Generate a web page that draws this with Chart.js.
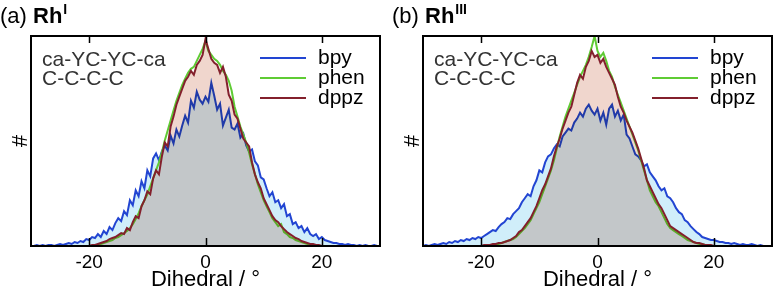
<!DOCTYPE html>
<html><head><meta charset="utf-8">
<script src="https://cdn.jsdelivr.net/npm/chart.js@4.4.0/dist/chart.umd.min.js"></script>
<style>
html,body{margin:0;padding:0;background:#fff;width:773px;height:288px;overflow:hidden}
#wa{position:absolute;left:0;top:0;width:390px;height:288px}
#wb{position:absolute;left:390px;top:0;width:383px;height:288px}
</style></head><body>
<div id="wa"><canvas id="ca"></canvas></div>
<div id="wb"><canvas id="cb"></canvas></div>
<script>
// Dihedral bins (degrees)
const bins = [-30,-29.5,-29,-28.5,-28,-27.5,-27,-26.5,-26,-25.5,
-25,-24.5,-24,-23.5,-23,-22.5,-22,-21.5,-21,-20.5,
-20,-19.5,-19,-18.5,-18,-17.5,-17,-16.5,-16,-15.5,
-15,-14.5,-14,-13.5,-13,-12.5,-12,-11.5,-11,-10.5,
-10,-9.5,-9,-8.5,-8,-7.5,-7,-6.5,-6,-5.5,
-5,-4.5,-4,-3.5,-3,-2.5,-2,-1.5,-1,-0.5,
0,
0.5,1,1.5,2,2.5,3,3.5,4,4.5,5,
5.5,6,6.5,7,7.5,8,8.5,9,9.5,10,
10.5,11,11.5,12,12.5,13,13.5,14,14.5,15,
15.5,16,16.5,17,17.5,18,18.5,19,19.5,20,
20.5,21,21.5,22,22.5,23,23.5,24,24.5,25,
25.5,26,26.5,27,27.5,28,28.5,29,29.5,30];

const xTicks = [-20, 0, 20];
const seriesNames = ['bpy', 'phen', 'dppz'];

// Panel (a) Rh(I)
const bpyA = [0,0,1,0,1,0,1,1,0,1,
2,1,2,3,2,4,3,5,4,7,
6,9,8,12,9,15,12,19,16,23,
28,25,35,31,46,41,56,50,65,58,
76,70,88,93,86,95,101,96,111,103,
117,110,121,131,124,146,139,155,147,143,
150,
145,164,151,137,143,121,129,137,119,117,
123,109,113,101,95,97,85,81,69,67,
58,50,54,44,46,38,42,30,32,22,
24,18,20,14,18,12,10,12,7,9,
6,5,4,3,3,2,2,1,2,1,
1,0,1,0,1,0,0,1,0,0];
const phenA = [0,0,0,0,0,0,0,0,0,0,
0,0,0,0,0,0,0,0,0,0,
0,0,0,1,2,3,4,5,6,8,
9,11,13,15,18,22,27,33,40,46,
52,60,68,76,84,94,106,116,126,136,
146,154,162,168,174,178,180,186,192,198,
206,
196,192,188,186,182,176,172,166,156,140,
130,120,112,104,94,82,72,62,54,46,
40,34,28,24,20,22,14,12,9,8,
6,5,4,3,2,2,1,1,0,0,
0,0,0,0,0,0,0,0,0,0,
0,0,0,0,0,0,0,0,0,0];
const dppzA = [0,0,0,0,0,0,0,0,0,0,
0,0,0,0,0,0,0,0,0,0,
0,1,1,2,3,4,5,7,8,9,
11,13,12,18,16,24,30,28,40,46,
55,52,68,76,72,90,104,100,120,130,
142,150,158,166,170,176,172,182,186,192,
208,
198,188,184,182,174,180,170,152,146,132,
128,118,108,104,100,84,72,64,58,48,
42,36,30,26,24,20,17,14,12,10,
8,7,5,4,3,2,2,1,1,0,
0,0,0,0,0,0,0,0,0,0,
0,0,0,0,0,0,0,0,0,0];

// Panel (b) Rh(III)
const bpyB = [0,1,0,1,2,1,2,3,2,4,
3,5,4,6,5,7,6,8,7,9,
8,10,12,14,16,15,19,22,24,28,
27,32,35,38,44,48,52,50,60,66,
76,74,84,90,92,98,102,100,110,114,
118,116,124,128,134,130,138,142,136,132,
138,
126,134,122,138,142,130,136,126,132,112,
108,100,92,90,86,80,82,74,70,66,
60,56,58,50,48,44,38,34,32,26,
24,20,17,14,12,9,8,7,6,6,
5,4,4,3,3,2,3,2,1,2,
1,1,2,1,0,1,0,0,0,0];
const phenB = [0,0,0,0,0,0,0,0,0,0,
0,0,0,0,0,0,0,0,0,0,
0,0,0,1,1,2,2,3,4,5,
6,7,9,12,15,18,22,26,32,38,
44,52,60,68,76,86,98,110,120,130,
138,146,154,162,170,176,182,190,200,211,
196,
190,194,186,176,170,160,152,144,136,128,
120,112,104,96,86,76,66,56,50,44,
40,34,28,22,18,16,14,12,10,8,
6,5,4,3,2,2,1,1,0,0,
0,0,0,0,0,0,0,0,0,0,
0,0,0,0,0,0,0,0,0,0];
const dppzB = [0,0,0,0,0,0,0,0,0,0,
0,0,0,0,0,0,0,0,0,0,
0,1,1,1,2,2,3,3,4,5,
6,8,10,14,16,20,24,28,34,40,
48,56,62,70,78,90,100,108,118,126,
134,140,152,164,172,168,180,186,196,190,
192,
184,188,180,174,168,162,150,140,134,126,
120,114,106,98,88,78,66,60,54,48,
42,38,32,26,20,18,16,14,12,10,
8,6,4,3,3,2,1,1,1,0,
0,0,0,0,0,0,0,0,0,0,
0,0,0,0,0,0,0,0,0,0];

const COL = {bpy:'#2245d2', phen:'#5fcb34', dppz:'#83202c'};
const FILL = {bpy:'#d0eefa', dppz:'#f0d6cd'};
const FONT = '"Liberation Sans", Arial, Helvetica, sans-serif';

function pts(arr){ return bins.map((b,i)=>({x:b, y:arr[i]})); }

const decor = {
  id:'decor',
  // fills (drawn by the filler in beforeDatasetDraw) blend with multiply; lines are drawn normally
  beforeDatasetsDraw(chart){ chart.ctx.globalCompositeOperation = 'multiply'; },
  beforeDatasetDraw(chart){ chart.ctx.globalCompositeOperation = 'source-over'; },
  afterDatasetDraw(chart){ chart.ctx.globalCompositeOperation = 'multiply'; },
  afterDatasetsDraw(chart){ chart.ctx.globalCompositeOperation = 'source-over'; },
  afterDraw(chart){
    const o = chart.options.plugins.decor;
    const ctx = chart.ctx, a = chart.chartArea, xs = chart.scales.x;
    ctx.save();
    ctx.globalCompositeOperation = 'source-over';
    // frame
    ctx.strokeStyle = '#000'; ctx.lineWidth = 2;
    ctx.strokeRect(a.left, a.top, a.right - a.left, a.bottom - a.top);
    // inward tick marks
    ctx.lineWidth = 1.5;
    xTicks.forEach(v=>{
      const px = Math.round(xs.getPixelForValue(v)) + 0.5;
      ctx.beginPath();
      ctx.moveTo(px, a.top); ctx.lineTo(px, a.top + 7);
      ctx.moveTo(px, a.bottom); ctx.lineTo(px, a.bottom - 8);
      ctx.stroke();
    });
    // panel title
    ctx.fillStyle = '#000'; ctx.textBaseline = 'alphabetic'; ctx.textAlign = 'left';
    ctx.font = '22px ' + FONT;
    ctx.fillText(o.tag, o.tagX, 23);
    const w1 = ctx.measureText(o.tag + ' ').width;
    ctx.font = 'bold 22px ' + FONT;
    ctx.fillText('Rh', o.tagX + w1, 23);
    const w2 = ctx.measureText('Rh').width;
    ctx.font = 'bold 14px ' + FONT;
    ctx.fillText(o.sup, o.tagX + w1 + w2 + 1, 14);
    // y label
    ctx.save();
    ctx.font = '22px ' + FONT;
    ctx.translate(a.left - 10, (a.top + a.bottom) / 2);
    ctx.rotate(-Math.PI / 2);
    ctx.textAlign = 'center'; ctx.textBaseline = 'middle';
    ctx.fillText('#', 0, 0);
    ctx.restore();
    // annotations
    ctx.font = '21px ' + FONT; ctx.fillStyle = '#333'; ctx.textBaseline = 'middle';
    ctx.fillText('ca-YC-YC-ca', a.left + 11, 60);
    ctx.fillText('C-C-C-C', a.left + 11, 79);
    // legend
    seriesNames.forEach((n,i)=>{
      const y = 58 + i * 20;
      ctx.strokeStyle = COL[n]; ctx.lineWidth = 2;
      ctx.beginPath(); ctx.moveTo(a.left + 229, y); ctx.lineTo(a.left + 275, y); ctx.stroke();
      ctx.fillStyle = '#000';
      ctx.fillText(n, a.left + 287, y);
    });
    ctx.restore();
  }
};

function makeChart(id, bpy, phen, dppz, tag, sup, tagX, padL, padR){
  return new Chart(document.getElementById(id), {
    type:'line',
    data:{ datasets:[
      {label:'dppz', data:pts(dppz), borderColor:COL.dppz, backgroundColor:FILL.dppz, fill:'origin', borderWidth:2, pointRadius:0, tension:0},
      {label:'phen', data:pts(phen), borderColor:COL.phen, backgroundColor:'rgba(0,0,0,0)', fill:false, borderWidth:2, pointRadius:0, tension:0},
      {label:'bpy', data:pts(bpy), borderColor:COL.bpy, backgroundColor:FILL.bpy, fill:'origin', borderWidth:2, pointRadius:0, tension:0}
    ]},
    options:{
      responsive:true, maintainAspectRatio:false, animation:false,
      layout:{padding:{left:padL, right:padR, top:36, bottom:0}},
      plugins:{ legend:{display:false}, tooltip:{enabled:false},
        decor:{tag:tag, sup:sup, tagX:tagX} },
      scales:{
        x:{ type:'linear', min:-30, max:30,
          afterBuildTicks(s){ s.ticks = xTicks.map(v=>({value:v})); },
          afterFit(s){ s.height = 42; },
          grid:{display:false, drawTicks:false}, border:{display:false},
          ticks:{ font:{family:FONT, size:19}, color:'#000', padding:5, maxRotation:0, autoSkip:false },
          title:{ display:true, text:'Dihedral / °', font:{family:FONT, size:22, lineHeight:1.0}, color:'#000', padding:{top:0, bottom:-3} } },
        y:{ display:false, min:0, max:211 }
      }
    },
    plugins:[decor]
  });
}

makeChart('ca', bpyA, phenA, dppzA, '(a)', 'I', 0, 31, 10);
makeChart('cb', bpyB, phenB, dppzB, '(b)', 'III', 2, 33, 1);
</script>
</body></html>
